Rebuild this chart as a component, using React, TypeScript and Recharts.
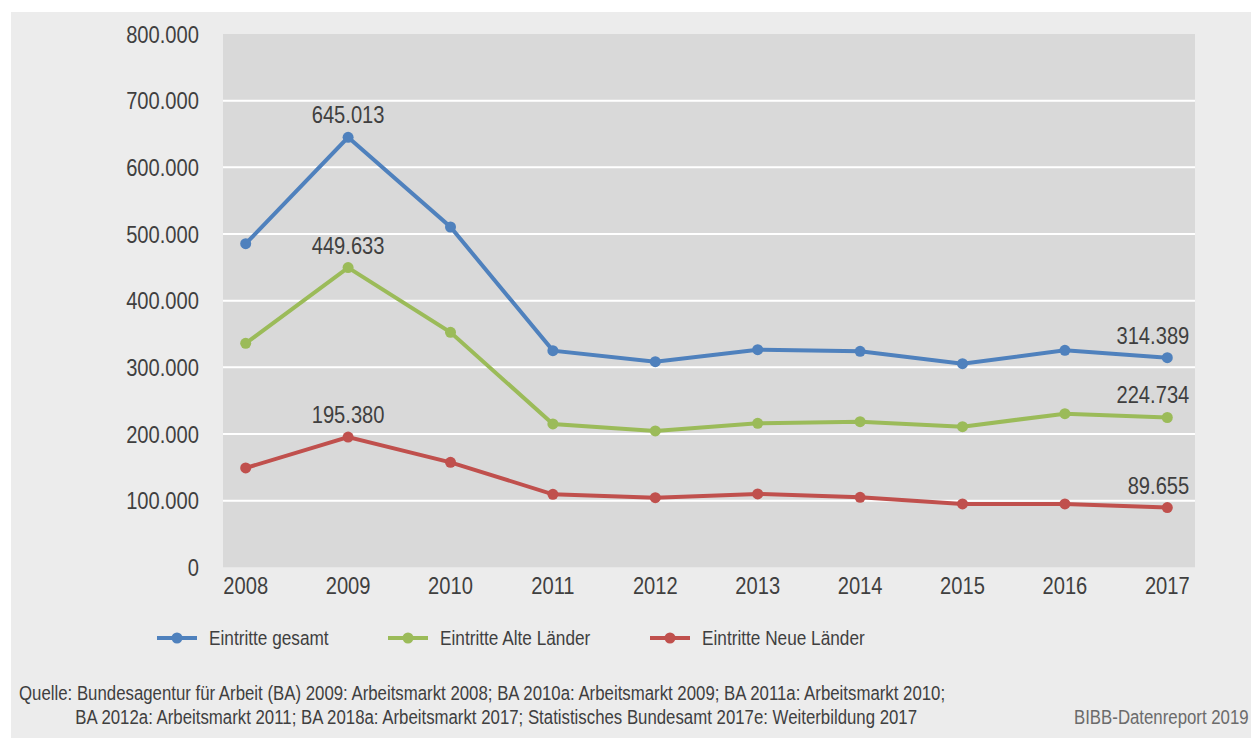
import React from "react";
import {
  LineChart,
  Line,
  XAxis,
  YAxis,
  CartesianGrid,
  ReferenceLine,
  LabelList,
} from "recharts";

const years = ["2008", "2009", "2010", "2011", "2012", "2013", "2014", "2015", "2016", "2017"];
const eintritteGesamt = [485400, 645013, 510500, 325000, 308400, 326400, 324000, 305400, 325500, 314389];
const eintritteAlte = [336000, 449633, 352500, 215000, 204500, 216000, 218400, 211000, 230400, 224734];
const eintritteNeue = [149000, 195380, 157500, 109500, 104400, 110000, 105000, 95000, 95000, 89655];
const yTicks = [0, 100000, 200000, 300000, 400000, 500000, 600000, 700000, 800000];
const labelledIndexes = [1, 9];

const seriesNames = ["Eintritte gesamt", "Eintritte Alte Länder", "Eintritte Neue Länder"];
const seriesKeys = ["gesamt", "alte", "neue"];
const seriesColors = ["#4f81bd", "#9bbb59", "#c0504d"];

const sourceLines = [
  "Quelle: Bundesagentur für Arbeit (BA) 2009: Arbeitsmarkt 2008; BA 2010a: Arbeitsmarkt 2009; BA 2011a: Arbeitsmarkt 2010;",
  "BA 2012a: Arbeitsmarkt 2011; BA 2018a: Arbeitsmarkt 2017; Statistisches Bundesamt 2017e: Weiterbildung 2017",
];
const footerNote = "BIBB-Datenreport 2019";

const data = years.map((year, i) => ({
  year,
  gesamt: eintritteGesamt[i],
  alte: eintritteAlte[i],
  neue: eintritteNeue[i],
}));

// no narrow font installed, so squeeze Liberation Sans horizontally
const FONT = '"Liberation Sans", Arial, sans-serif';
const SQUEEZE = 0.84;
const TEXT = "#3f3f3f";

// german thousands separator: 645013 -> 645.013
const fmt = (v: number) => String(Math.round(v)).replace(/\B(?=(\d{3})+(?!\d))/g, ".");

const NarrowText = ({ x, y, anchor, dy, children }: any) => (
  <text
    transform={`translate(${x},${y}) scale(${SQUEEZE},1)`}
    textAnchor={anchor}
    dy={dy}
    fontSize={24}
    fontFamily={FONT}
    fill={TEXT}
  >
    {children}
  </text>
);

const XTick = (props: any) => {
  const { x, y, payload } = props;
  return (
    <NarrowText x={x} y={y} anchor="middle" dy="0.71em">
      {payload.value}
    </NarrowText>
  );
};

const YTick = (props: any) => {
  const { x, y, payload } = props;
  return (
    <NarrowText x={x} y={y} anchor="end" dy="0.355em">
      {fmt(payload.value)}
    </NarrowText>
  );
};

const PointLabel = (props: any) => {
  const { x, y, value, index } = props;
  if (!labelledIndexes.includes(index)) return null;
  const last = index === years.length - 1;
  return (
    <NarrowText x={last ? x + 22 : x} y={y - 14} anchor={last ? "end" : "middle"}>
      {fmt(value)}
    </NarrowText>
  );
};

const squeezed: React.CSSProperties = {
  transform: `scaleX(${SQUEEZE})`,
  transformOrigin: "left center",
  whiteSpace: "nowrap",
};

const legendLefts = [157, 388, 650];

const App: React.FC = () => {
  return (
    <div
      style={{
        position: "fixed",
        left: 0,
        top: 0,
        width: 1251,
        height: 738,
        background: "#ffffff",
        overflow: "hidden",
        fontFamily: FONT,
      }}
    >
      <div
        style={{
          position: "absolute",
          left: 11,
          top: 12,
          right: 0,
          bottom: 0,
          background: "#ececec",
        }}
      />
      <div style={{ position: "absolute", left: 0, top: 0 }}>
        <LineChart
          width={1251}
          height={620}
          data={data}
          margin={{ top: 34, right: 56, left: 123, bottom: 22.7 }}
        >
          <CartesianGrid fill="#d9d9d9" horizontal={false} vertical={false} />
          {yTicks.slice(1, -1).map((t) => (
            <ReferenceLine key={t} y={t} stroke="#ffffff" strokeWidth={2} />
          ))}
          <XAxis
            dataKey="year"
            interval={0}
            padding={{ left: 22.7, right: 27.7 }}
            axisLine={false}
            tickLine={false}
            tickMargin={4}
            height={30}
            tick={<XTick />}
          />
          <YAxis
            domain={[0, 800000]}
            ticks={yTicks}
            width={100}
            axisLine={false}
            tickLine={false}
            tickMargin={18}
            tick={<YTick />}
          />
          {seriesKeys.map((key, i) => (
            <Line
              key={key}
              dataKey={key}
              name={seriesNames[i]}
              stroke={seriesColors[i]}
              strokeWidth={4}
              dot={{ r: 5.5, fill: seriesColors[i], stroke: "none" }}
              activeDot={false}
              isAnimationActive={false}
            >
              <LabelList dataKey={key} content={<PointLabel />} />
            </Line>
          ))}
        </LineChart>
      </div>

      {seriesNames.map((name, i) => (
        <div
          key={name}
          style={{
            position: "absolute",
            left: legendLefts[i],
            top: 624,
            height: 28,
            display: "flex",
            alignItems: "center",
            fontSize: 20.5,
            color: TEXT,
            whiteSpace: "nowrap",
          }}
        >
          <svg width={40} height={14} style={{ marginRight: 12 }}>
            <line x1={0} y1={7} x2={40} y2={7} stroke={seriesColors[i]} strokeWidth={4} />
            <circle cx={20} cy={7} r={5.5} fill={seriesColors[i]} />
          </svg>
          <span style={{ ...squeezed, display: "inline-block" }}>{name}</span>
        </div>
      ))}

      <div
        style={{
          position: "absolute",
          left: 19,
          top: 681,
          fontSize: 20,
          lineHeight: "24px",
          color: TEXT,
          ...squeezed,
        }}
      >
        <div>{sourceLines[0]}</div>
        <div style={{ paddingLeft: 67 }}>{sourceLines[1]}</div>
      </div>
      <div
        style={{
          position: "absolute",
          left: 1074,
          top: 705,
          fontSize: 20,
          lineHeight: "24px",
          color: "#6b6b6b",
          ...squeezed,
        }}
      >
        {footerNote}
      </div>
    </div>
  );
};

export default App;
